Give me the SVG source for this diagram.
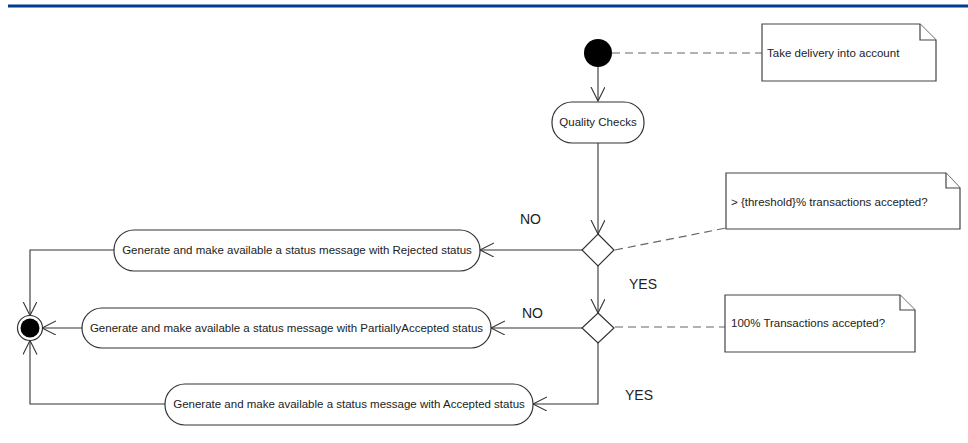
<svg xmlns="http://www.w3.org/2000/svg" width="968" height="443" viewBox="0 0 968 443">
<style>
.act{fill:#fff;stroke:#333;stroke-width:1.2}
.note{fill:#fff;stroke:#444;stroke-width:1.2}
.t{font-family:"Liberation Sans",Arial,sans-serif;font-size:11.5px;fill:#222}
.lbl{font-family:"Liberation Sans",Arial,sans-serif;font-size:14px;fill:#222}
.flow{fill:none;stroke:#333;stroke-width:1.1}
.dash{fill:none;stroke:#666;stroke-width:1.2;stroke-dasharray:8 5}
</style>
<defs>
<marker id="arr" markerWidth="16" markerHeight="16" refX="14" refY="7" orient="auto" markerUnits="userSpaceOnUse">
<path d="M0,0 L14,7 L0,14" fill="none" stroke="#333" stroke-width="1.1"/>
</marker>
</defs>
<rect x="0" y="0" width="968" height="443" fill="#fff"/>
<line x1="8" y1="6" x2="968" y2="6" stroke="#003d8f" stroke-width="3"/>

<g id="connectors">
<line class="dash" x1="612" y1="53" x2="762" y2="53"/>
<line class="dash" x1="615" y1="250" x2="726" y2="228"/>
<line class="dash" x1="615" y1="327" x2="725" y2="327"/>
<path class="flow" d="M598,67 L598,101" marker-end="url(#arr)"/>
<path class="flow" d="M598,143 L598,234" marker-end="url(#arr)"/>
<path class="flow" d="M583,250 L480,250" marker-end="url(#arr)"/>
<path class="flow" d="M598,266 L598,313" marker-end="url(#arr)"/>
<path class="flow" d="M583,328 L491,328" marker-end="url(#arr)"/>
<path class="flow" d="M598,343 L598,404 L533,404" marker-end="url(#arr)"/>
<path class="flow" d="M114,250 L30,250 L30,315.5" marker-end="url(#arr)"/>
<path class="flow" d="M82,328 L42,328" marker-end="url(#arr)"/>
<path class="flow" d="M165,404 L30,404 L30,340.5" marker-end="url(#arr)"/>
</g>

<g id="start">
<circle cx="598" cy="53" r="14" fill="#000"/>
</g>
<g id="note-delivery">
<path class="note" d="M762,24 L920,24 L936,40 L936,81 L762,81 Z"/>
<path class="note" d="M920,24 L920,40 L936,40" fill="none"/>
<text class="t" x="767" y="57">Take delivery into account</text>
</g>
<g id="quality-checks">
<rect class="act" x="552" y="102" width="92" height="41" rx="20"/>
<text class="t" x="598" y="126" text-anchor="middle">Quality Checks</text>
</g>
<g id="decision-threshold">
<path class="act" d="M598,234 L614,250 L598,266 L582,250 Z"/>
</g>
<g id="note-threshold">
<path class="note" d="M726,173 L946,173 L960,188 L960,229 L726,229 Z"/>
<path class="note" d="M946,173 L946,188 L960,188" fill="none"/>
<text class="t" x="731" y="206">&gt; {threshold}% transactions accepted?</text>
</g>
<g id="decision-full">
<path class="act" d="M598,313 L614,328 L598,343 L582,328 Z"/>
</g>
<g id="note-full">
<path class="note" d="M725,295 L900,295 L915,310 L915,352 L725,352 Z"/>
<path class="note" d="M900,295 L900,310 L915,310" fill="none"/>
<text class="t" x="731" y="327">100% Transactions accepted?</text>
</g>
<g id="rejected">
<rect class="act" x="114" y="230" width="366" height="41" rx="20"/>
<text class="t" x="297" y="254" text-anchor="middle">Generate and make available a status message with Rejected status</text>
</g>
<g id="partially">
<rect class="act" x="82" y="308" width="409" height="40" rx="20"/>
<text class="t" x="286.5" y="332" text-anchor="middle">Generate and make available a status message with PartiallyAccepted status</text>
</g>
<g id="accepted">
<rect class="act" x="165" y="384" width="368" height="41" rx="20"/>
<text class="t" x="349" y="408" text-anchor="middle">Generate and make available a status message with Accepted status</text>
</g>
<g id="end">
<circle cx="30" cy="328" r="12.5" fill="#fff" stroke="#333" stroke-width="1.2"/>
<circle cx="30" cy="328" r="9.5" fill="#000"/>
</g>
<g id="labels">
<text class="lbl" x="520" y="224">NO</text>
<text class="lbl" x="629" y="289">YES</text>
<text class="lbl" x="522" y="318">NO</text>
<text class="lbl" x="625" y="400">YES</text>
</g>
</svg>
